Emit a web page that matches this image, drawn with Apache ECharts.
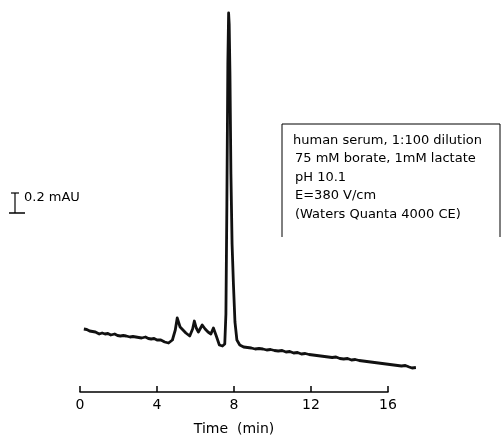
<!DOCTYPE html>
<html lang="en">
<head>
    <meta charset="utf-8">
    <script src="https://cdn.jsdelivr.net/npm/echarts@6/dist/echarts.min.js"></script>
</head>
<body style="margin:0">
<div id="main" style="width:502px;height:441px;"></div>
<script type="text/javascript">
    // electropherogram trace, time in min / absorbance in mAU (offset baseline)
    var timeMin = [0.2, 0.35, 0.5, 0.65, 0.8, 1.0, 1.15, 1.3, 1.45, 1.6, 1.8, 1.95, 2.1, 2.25, 2.4, 2.6, 2.75, 2.9,
        3.05, 3.2, 3.4, 3.55, 3.7, 3.85, 4.0, 4.2, 4.4, 4.6, 4.8,
        4.95, 5.05, 5.2, 5.35, 5.5, 5.7, 5.85, 5.94, 6.04, 6.15, 6.35, 6.5, 6.65, 6.8, 6.93, 7.08, 7.24,
        7.4, 7.52, 7.58, 7.63, 7.68, 7.72, 7.75, 7.79, 7.84, 7.9, 7.97, 8.05, 8.15, 8.3, 8.5,
        8.7, 8.9, 9.1, 9.3, 9.5, 9.7, 9.9, 10.1, 10.3, 10.5, 10.7, 10.9, 11.1, 11.3, 11.5, 11.7, 11.9,
        12.1, 12.3, 12.5, 12.7, 12.9, 13.1, 13.3, 13.5, 13.7, 13.9, 14.1, 14.3, 14.5, 14.7, 14.9,
        15.1, 15.3, 15.5, 15.7, 15.9, 16.1, 16.3, 16.5, 16.7, 16.9, 17.1, 17.25, 17.45];
    var absorb = [0.65, 0.645, 0.63, 0.625, 0.62, 0.60, 0.61, 0.60, 0.605, 0.59, 0.60, 0.585, 0.58, 0.585, 0.58, 0.57, 0.575, 0.57,
        0.565, 0.56, 0.57, 0.555, 0.55, 0.555, 0.54, 0.54, 0.52, 0.51, 0.54,
        0.64, 0.76, 0.67, 0.64, 0.61, 0.58, 0.65, 0.73, 0.66, 0.62, 0.69, 0.65, 0.62, 0.60, 0.66, 0.58, 0.49,
        0.48, 0.50, 0.80, 1.90, 3.30, 3.81, 3.70, 3.20, 2.20, 1.50, 1.10, 0.72, 0.54, 0.49, 0.47,
        0.465, 0.46, 0.45, 0.455, 0.45, 0.44, 0.445, 0.435, 0.43, 0.435, 0.42, 0.425, 0.41, 0.415, 0.40, 0.405, 0.395,
        0.39, 0.385, 0.38, 0.375, 0.37, 0.365, 0.37, 0.355, 0.35, 0.355, 0.34, 0.345, 0.335, 0.33, 0.325,
        0.32, 0.315, 0.31, 0.305, 0.30, 0.295, 0.29, 0.285, 0.28, 0.285, 0.27, 0.26, 0.265];
    var xTicks = [0, 4, 8, 12, 16];
    var infoLines = [
        'human serum, 1:100 dilution',
        '75 mM borate, 1mM lactate',
        'pH 10.1',
        'E=380 V/cm',
        '(Waters Quanta 4000 CE)'
    ];
    var scaleBar = 0.2; // mAU

    var myChart = echarts.init(document.getElementById('main'));
    var font = 'DejaVu Sans';

    var points = timeMin.map(function (t, i) { return [t, absorb[i]]; });

    // axis drawn 0-16, trace runs a bit past the end so it sits on a wider hidden grid
    var axLeft = 80, axRight = 388, traceRight = 422;
    var traceMax = 16 * (traceRight - axLeft) / (axRight - axLeft);

    var option = {
        animation: false,
        backgroundColor: '#fff',
        grid: [
            {left: axLeft, right: 502 - axRight, top: 4, bottom: 47},
            {left: axLeft, right: 502 - traceRight, top: 4, bottom: 47}
        ],
        xAxis: [{
            gridIndex: 0,
            type: 'value',
            min: xTicks[0],
            max: xTicks[xTicks.length - 1],
            interval: 4,
            name: 'Time  (min)',
            nameLocation: 'middle',
            nameGap: 30,
            nameTextStyle: {fontFamily: font, fontSize: 14, color: '#000'},
            axisLine: {lineStyle: {color: '#000', width: 1.5}},
            axisTick: {inside: true, length: 6, lineStyle: {color: '#000', width: 1.5}},
            axisLabel: {fontFamily: font, fontSize: 14, color: '#000', margin: 6},
            splitLine: {show: false}
        }, {
            gridIndex: 1,
            type: 'value',
            min: 0,
            max: traceMax,
            show: false
        }],
        yAxis: [
            {gridIndex: 0, type: 'value', min: 0, max: 3.9, show: false},
            {gridIndex: 1, type: 'value', min: 0, max: 3.9, show: false}
        ],
        series: [{
            type: 'line',
            xAxisIndex: 1,
            yAxisIndex: 1,
            data: points,
            showSymbol: false,
            lineStyle: {color: '#111', width: 2.8, join: 'round'}
        }]
    };
    myChart.setOption(option);

    // scale bar sized from the y scale
    var y0 = myChart.convertToPixel({yAxisIndex: 1}, 0);
    var y1 = myChart.convertToPixel({yAxisIndex: 1}, scaleBar);
    var barLen = y0 - y1;
    var barTop = 193;
    var graphics = [
        {type: 'line', shape: {x1: 15, y1: barTop, x2: 15, y2: barTop + barLen}, style: {stroke: '#000', lineWidth: 1.2}},
        {type: 'line', shape: {x1: 11, y1: barTop, x2: 19, y2: barTop}, style: {stroke: '#000', lineWidth: 1.2}},
        {type: 'line', shape: {x1: 9, y1: barTop + barLen, x2: 25, y2: barTop + barLen}, style: {stroke: '#000', lineWidth: 1.5}},
        {type: 'text', left: 24, top: 191, style: {text: scaleBar + ' mAU', font: '13px "DejaVu Sans"', fill: '#000'}},
        {type: 'polyline', shape: {points: [[282, 237], [282, 124], [500, 124], [500, 237]]}, style: {stroke: '#000', lineWidth: 1, fill: null}}
    ];
    infoLines.forEach(function (txt, i) {
        graphics.push({
            type: 'text', left: i === 0 ? 293 : 295, top: 134 + i * 18.5,
            style: {text: txt, font: '13px "DejaVu Sans"', fill: '#000'}
        });
    });
    myChart.setOption({graphic: graphics});
</script>
</body>
</html>
